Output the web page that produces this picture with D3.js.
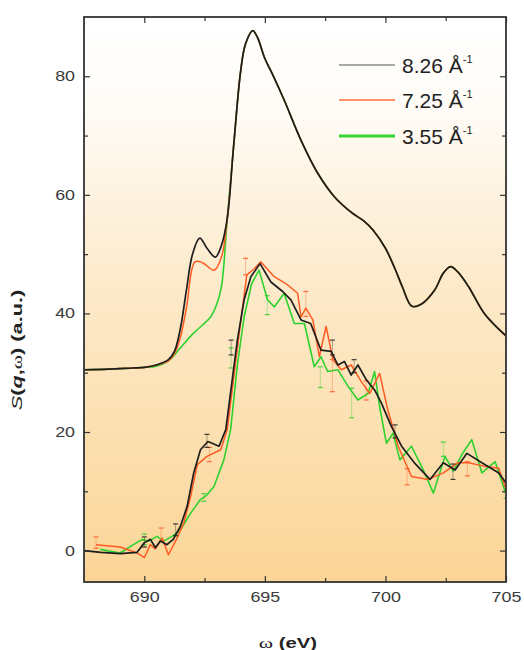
<!DOCTYPE html>
<html>
<head>
<meta charset="utf-8">
<script src="https://cdn.jsdelivr.net/npm/d3@7"></script>
<style>
  body { margin: 0; background: #fff; }
  svg { font-family: "Liberation Sans", Arial, sans-serif; }
</style>
</head>
<body>
<div id="chart"></div>
<script>
// energy loss (eV) / S(q,w)
const upperBlackEdge = [[687.5,30.5],[688.5,30.6],[689.5,30.8],[690,30.9],[690.5,31.3],[691,32.2],[691.25,33.6],[691.5,37.5],[691.75,44],[692.0,50],[692.3,52.7],[692.6,51],[692.95,49.5],[693.2,51.5]];
const upperOrangeEdge = [[687.5,30.5],[688.5,30.6],[689.5,30.8],[690,30.9],[690.5,31.3],[691,32.0],[691.25,33.2],[691.5,36],[691.75,41],[692.1,48.7],[692.4,48.6],[692.9,47.3],[693.2,49.5]];
const upperGreenEdge = [[687.5,30.5],[688.5,30.6],[689.5,30.8],[690,30.9],[690.5,31.1],[691,32.0],[691.5,34.2],[692,36.5],[692.4,38],[692.75,39.4],[693.0,41.5],[693.2,44.5]];
const upperTail = [[693.44,56],[693.7,68],[694.0,81],[694.2,85.5],[694.5,87.7],[694.7,86.5],[695.0,83],[695.3,80.5],[695.8,76],[696.5,69.2],[697.2,63.6],[697.9,59.6],[698.6,57],[699.1,55.6],[699.5,54],[700,51],[700.4,47.5],[700.7,44.5],[701.1,41.2],[701.5,41.6],[702.05,44],[702.4,46.8],[702.7,47.9],[703.0,47],[703.45,44.5],[704.1,40],[705,36.2]];

const lowerBlack = [[687.5,0],[688.2,-0.3],[689.0,-0.5],[689.7,-0.3],[690.0,1.3],[690.25,1.9],[690.46,0.5],[690.67,1.6],[690.94,1.0],[691.2,1.9],[691.5,4.1],[691.78,7.5],[692.05,13.1],[692.33,17],[692.64,18.4],[693.1,17.6],[693.38,20.4],[693.86,35.5],[694.14,42.3],[694.42,46.2],[694.8,48.4],[695.25,45.3],[695.74,43.7],[696.08,42.3],[696.5,38.9],[696.9,38.3],[697.33,33.8],[697.75,33.6],[698.03,31.3],[698.3,31.9],[698.58,29.6],[698.86,31.3],[699.21,28.8],[699.55,27.1],[699.83,24.9],[700.25,20.9],[700.67,17.6],[701.2,14.8],[701.85,12],[702.4,14.8],[702.89,13.6],[703.38,16.4],[704.0,14.8],[704.7,13.1],[705,11.4]];
const lowerOrange = [[688.0,1.0],[689.0,0.6],[689.7,-0.4],[690.0,-1.2],[690.25,1.0],[690.46,0.3],[690.74,2.1],[691.0,-0.7],[691.36,2.1],[691.64,4.7],[691.92,9.1],[692.2,14.5],[692.6,15.9],[693.17,17.0],[693.44,20.4],[693.93,36.4],[694.25,46.5],[694.55,47.5],[694.83,48.7],[695.39,46.2],[695.95,44.8],[696.36,43.4],[696.5,39.4],[696.7,40.9],[696.99,38.9],[697.26,32.7],[697.54,37.8],[697.82,32.2],[698.17,30.5],[698.58,31.3],[699.0,28.5],[699.35,26.5],[699.76,29.9],[700.1,23.7],[700.53,17.6],[701.08,12.5],[701.78,12],[702.4,13.1],[703.0,14.8],[703.44,14.8],[704.14,14.2],[704.7,13.9],[705,10.3]];
const lowerGreen = [[688.17,0.2],[689.0,-0.4],[689.55,1.0],[689.9,1.85],[690.18,1.6],[690.53,2.4],[690.8,1.6],[691.15,2.4],[691.5,3.5],[691.92,6.3],[692.33,8.6],[692.6,9.4],[692.89,10.8],[693.3,15.3],[693.58,20.4],[693.86,31.3],[694.14,39.4],[694.45,45],[694.76,47.3],[695.11,42.3],[695.39,41.1],[695.8,43.4],[696.22,38.3],[696.64,38.3],[697.05,31.0],[697.33,32.7],[697.6,30.2],[698.03,30.5],[698.45,27.7],[698.86,25.4],[699.28,26.5],[699.55,30.2],[699.76,24.3],[700.04,18.1],[700.32,19.8],[700.6,15.3],[701.08,17.6],[701.57,13.6],[701.99,9.7],[702.47,15.9],[702.82,13.4],[703.17,16.2],[703.58,18.7],[704.0,13.1],[704.55,15.0],[705,9.5]];

// error bars [x, low, high]
const errBlack = [[690.0,0.6,2.3],[691.3,2.5,4.5],[692.6,17.4,19.6],[693.6,33,35.5],[697.8,33,35.5],[698.7,30,32.2],[700.4,19,21.2],[702.8,12,14.6]];
const errOrange = [[688.0,0.4,2.3],[690.7,1.6,3.8],[692.7,15,17.4],[694.2,46.5,49.3],[696.7,39.5,43.7],[697.8,26.8,32.2],[699.2,25.4,28.6],[700.9,11.1,13.8],[703.4,12.6,15]];
const errGreen = [[690.0,1.0,2.8],[692.47,8.3,9.6],[693.6,30.8,34.2],[695.1,39.8,43],[697.3,27.5,31],[698.6,22.4,27.4],[702.4,15.9,18.3],[705,8.8,10.8]];

const seriesNames = ['8.26', '7.25', '3.55'];
const seriesColors = ['#1e1e1e', '#ff5a22', '#2ed12e'];
const xMajor = [690, 695, 700, 705];
const xMinor = [692.5, 697.5, 702.5];
const yMajor = [0, 20, 40, 60, 80];
const yMinor = [10, 30, 50, 70];

const W = 524, H = 650;
const mLeft = 84, mRight = 506, mTop = 17, mBottom = 582;

const svg = d3.select('#chart').append('svg')
    .attr('width', W)
    .attr('height', H);

const x = d3.scaleLinear().domain([687.5, 705]).range([mLeft, mRight]);
const y = d3.scaleLinear().domain([-5.3, 90]).range([mBottom, mTop]);

const defs = svg.append('defs');
const grad = defs.append('linearGradient')
    .attr('id', 'bg')
    .attr('x1', 0).attr('y1', 0).attr('x2', 0).attr('y2', 1);
[[0, '#ffffff'], [0.16, '#fffcf7'], [0.45, '#fdebcd'], [1, '#fbd596']].forEach(s => {
    grad.append('stop').attr('offset', s[0]).attr('stop-color', s[1]);
});
defs.append('clipPath').attr('id', 'clip')
    .append('rect')
    .attr('x', mLeft).attr('y', mTop)
    .attr('width', mRight - mLeft).attr('height', mBottom - mTop);

svg.append('rect')
    .attr('x', mLeft).attr('y', mTop)
    .attr('width', mRight - mLeft).attr('height', mBottom - mTop)
    .attr('fill', 'url(#bg)');

// curves
const smooth = d3.line().x(d => x(d[0])).y(d => y(d[1])).curve(d3.curveCatmullRom.alpha(0.5));
const jagged = d3.line().x(d => x(d[0])).y(d => y(d[1]));

const plot = svg.append('g').attr('clip-path', 'url(#clip)');

const upper = [upperBlackEdge.concat(upperTail), upperOrangeEdge.concat(upperTail), upperGreenEdge.concat(upperTail)];
const lower = [lowerBlack, lowerOrange, lowerGreen];
const errs = [errBlack, errOrange, errGreen];
const widths = [1.7, 1.5, 1.6];

// draw green first, black on top
[2, 1, 0].forEach(i => {
    const g = plot.append('g')
        .attr('stroke', seriesColors[i])
        .attr('fill', 'none');

    errs[i].forEach(e => {
        g.append('line')
            .attr('x1', x(e[0])).attr('x2', x(e[0]))
            .attr('y1', y(e[1])).attr('y2', y(e[2]))
            .attr('stroke-width', 0.8)
            .attr('stroke-opacity', 0.45);
        [e[1], e[2]].forEach(v => {
            g.append('line')
                .attr('x1', x(e[0]) - 2.5).attr('x2', x(e[0]) + 2.5)
                .attr('y1', y(v)).attr('y2', y(v))
                .attr('stroke-width', 1.2)
                .attr('stroke-opacity', 0.85);
        });
    });

    g.append('path')
        .attr('d', jagged(lower[i]))
        .attr('stroke-width', widths[i])
        .attr('stroke-linejoin', 'round');

    g.append('path')
        .attr('d', smooth(upper[i]))
        .attr('stroke-width', widths[i]);
});

// axes with inward ticks on all four sides
const axisColor = '#333';
function styleAxis(g) {
    g.select('.domain').remove();
    g.selectAll('line').attr('stroke', axisColor).attr('stroke-width', 1.2);
    g.selectAll('text')
        .attr('fill', '#3a3a3a')
        .attr('font-size', 14)
        .attr('font-family', '"Liberation Sans", Arial, sans-serif');
}

svg.append('g')
    .attr('transform', `translate(0,${mBottom})`)
    .call(d3.axisBottom(x).tickValues(xMajor).tickSizeInner(-6).tickSizeOuter(0).tickPadding(10.5).tickFormat(d3.format('d')))
    .call(styleAxis)
    .selectAll('text').attr('transform', 'scale(1.28,1)');
svg.append('g')
    .attr('transform', `translate(0,${mBottom})`)
    .call(d3.axisBottom(x).tickValues(xMinor).tickSizeInner(-4).tickSizeOuter(0).tickFormat(''))
    .call(styleAxis);
svg.append('g')
    .attr('transform', `translate(0,${mTop})`)
    .call(d3.axisTop(x).tickValues(xMajor).tickSizeInner(-6).tickSizeOuter(0).tickFormat(''))
    .call(styleAxis);
svg.append('g')
    .attr('transform', `translate(0,${mTop})`)
    .call(d3.axisTop(x).tickValues(xMinor).tickSizeInner(-4).tickSizeOuter(0).tickFormat(''))
    .call(styleAxis);

svg.append('g')
    .attr('transform', `translate(${mLeft},0)`)
    .call(d3.axisLeft(y).tickValues(yMajor).tickSizeInner(-6).tickSizeOuter(0).tickPadding(7).tickFormat(d3.format('d')))
    .call(styleAxis)
    .selectAll('text').attr('transform', 'scale(1.28,1)');
svg.append('g')
    .attr('transform', `translate(${mLeft},0)`)
    .call(d3.axisLeft(y).tickValues(yMinor).tickSizeInner(-4).tickSizeOuter(0).tickFormat(''))
    .call(styleAxis);
svg.append('g')
    .attr('transform', `translate(${mRight},0)`)
    .call(d3.axisRight(y).tickValues(yMajor).tickSizeInner(-6).tickSizeOuter(0).tickFormat(''))
    .call(styleAxis);
svg.append('g')
    .attr('transform', `translate(${mRight},0)`)
    .call(d3.axisRight(y).tickValues(yMinor).tickSizeInner(-4).tickSizeOuter(0).tickFormat(''))
    .call(styleAxis);

svg.append('rect')
    .attr('x', mLeft).attr('y', mTop)
    .attr('width', mRight - mLeft).attr('height', mBottom - mTop)
    .attr('fill', 'none')
    .attr('stroke', axisColor)
    .attr('stroke-width', 1.8);

// axis titles
const xt = svg.append('text')
    .attr('transform', 'translate(288,648) scale(1.45,1)')
    .attr('text-anchor', 'middle')
    .attr('font-size', 14)
    .attr('fill', '#222');
xt.append('tspan').attr('font-family', '"Liberation Serif", serif').attr('font-size', 15).text('ω');
xt.append('tspan').attr('font-weight', 'bold').text(' (eV)');

const yt = svg.append('text')
    .attr('transform', 'translate(22,350) rotate(-90) scale(1.55,1)')
    .attr('text-anchor', 'middle')
    .attr('font-size', 14)
    .attr('font-weight', 'bold')
    .attr('fill', '#222');
yt.append('tspan').attr('font-style', 'italic').attr('font-weight', 'normal').text('S');
yt.append('tspan').text('(');
yt.append('tspan').attr('font-style', 'italic').text('q');
yt.append('tspan').text(',');
yt.append('tspan').attr('font-family', '"Liberation Serif", serif').attr('font-weight', 'normal').text('ω');
yt.append('tspan').text(') (a.u.)');

// legend
const legendY = [65, 100, 136];
const legendW = [1.2, 1.5, 3];
const legendC = ['#555', '#ff6a3a', '#33d633'];
seriesNames.forEach((name, i) => {
    svg.append('line')
        .attr('x1', 339).attr('x2', 395)
        .attr('y1', legendY[i]).attr('y2', legendY[i])
        .attr('stroke', legendC[i])
        .attr('stroke-width', legendW[i]);
    const t = svg.append('text')
        .attr('x', 402)
        .attr('y', legendY[i] + 7.5)
        .attr('font-size', 21)
        .attr('fill', '#222');
    t.append('tspan').text(name + ' Å');
    t.append('tspan').attr('font-size', 11).attr('dy', -10).text('-1');
});
</script>
</body>
</html>
